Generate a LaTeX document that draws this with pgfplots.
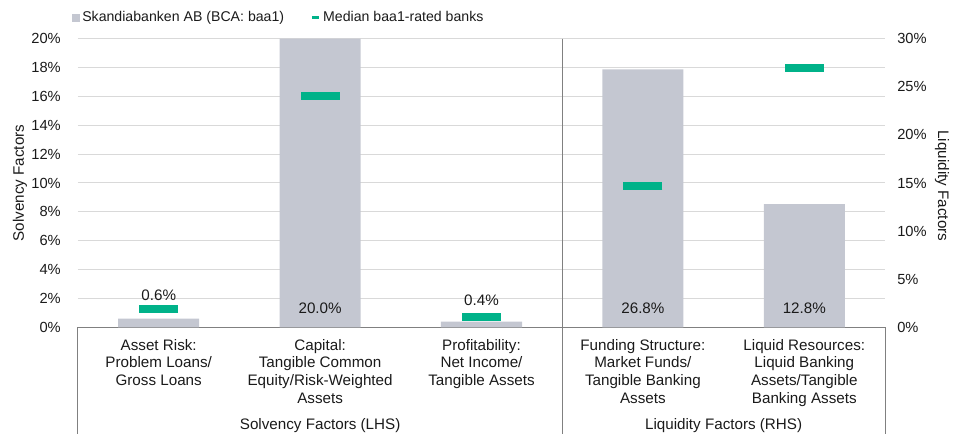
\documentclass[border=0pt]{standalone}
\usepackage{pgfplots}
\pgfplotsset{compat=1.18}
\usepackage{fontspec}
\setmainfont{Liberation Sans}
\definecolor{barc}{HTML}{C4C7D1}
\definecolor{medc}{HTML}{00B289}
\definecolor{gridc}{HTML}{D9D9D9}
\definecolor{linec}{HTML}{808080}
\definecolor{txtc}{HTML}{1A1A1A}
\newcommand\bigf{\fontsize{11.4}{13.2}\selectfont}
\newcommand\tkf{\fontsize{11}{13}\selectfont}
\newcommand\smf{\fontsize{10.6}{13}\selectfont}
\begin{document}
\begin{tikzpicture}[font=\bigf, text=txtc]
\pgfplotsset{
 common/.style={
  scale only axis, width=605.25pt, height=216.5pt,
  xmin=-0.5, xmax=4.5, ymin=0,
  clip=false,
  /pgf/number format/assume math mode=true,
  tick label style={font=\tkf, text=txtc},
  label style={font=\bigf, text=txtc},
 }
}
\begin{axis}[common, ymax=20,
  axis x line*=bottom, axis y line*=left,
  y axis line style={draw=none},
  x axis line style={linec, line width=0.75pt},
  ymajorgrids, grid style={gridc, line width=0.75pt},
  ytick={0,2,...,20},
  yticklabels={0\%,2\%,4\%,6\%,8\%,10\%,12\%,14\%,16\%,18\%,20\%},
  ytick style={draw=none}, xtick style={draw=none},
  yticklabel style={xshift=-9.4pt},
  xtick={0,1,2,3,4},
  xticklabels={{Asset Risk:\\Problem Loans/\\Gross Loans},
               {Capital:\\Tangible Common\\Equity/Risk-Weighted\\Assets},
               {Profitability:\\Net Income/\\Tangible Assets},
               {Funding Structure:\\Market Funds/\\Tangible Banking\\Assets},
               {Liquid Resources:\\Liquid Banking\\Assets/Tangible\\Banking Assets}},
  xticklabel style={align=center, anchor=north, yshift=-5.5pt, font=\bigf},
  ylabel={Solvency Factors},
  ylabel style={at={(axis description cs:-0.0719,0.5)}, anchor=center},
  legend columns=2,
  legend style={at={(rel axis cs:0,1.073)}, anchor=west, xshift=-5pt,
    draw=none, fill=none, inner sep=0pt, font=\smf,
    /tikz/every even column/.append style={column sep=18pt}},
  legend cell align=left,
]
\addplot[ybar, bar width=60.75pt, fill=barc, draw=none,
  legend image code/.code={\fill[barc] (0pt,-3pt) rectangle (6pt,3pt);}]
  coordinates {(0,0.6) (1,20) (2,0.4)};
\addlegendentry{Skandiabanken AB (BCA: baa1)}
\addplot[only marks, mark=-, mark size=14.6pt, mark options={medc, line width=6pt},
  legend image code/.code={\draw[medc, line width=2pt] (0pt,0pt) -- (5.25pt,0pt);}]
  coordinates {(0,1.3) (1,16.0) (2,0.75)};
\addlegendentry{Median baa1-rated banks}
\node at (axis cs:0,2.24) {0.6\%};
\node at (axis cs:1,1.29) {20.0\%};
\node at (axis cs:2,1.87) {0.4\%};
\end{axis}
\begin{axis}[common, ymax=30,
  axis y line*=right, axis x line=none,
  y axis line style={draw=none},
  ytick={0,5,...,30},
  yticklabels={0\%,5\%,10\%,15\%,20\%,25\%,30\%},
  ytick style={draw=none},
  yticklabel style={xshift=5.7pt},
  ylabel={Liquidity Factors},
  ylabel style={at={(axis description cs:1.0706,0.49)}, anchor=center, rotate=180},
]
\addplot[ybar, bar width=60.75pt, fill=barc, draw=none, forget plot]
  coordinates {(3,26.8) (4,12.8)};
\addplot[only marks, mark=-, mark size=14.6pt, mark options={medc, line width=6pt}, forget plot]
  coordinates {(3,14.7) (4,27.0)};
\node at (axis cs:3,1.93) {26.8\%};
\node at (axis cs:4,1.93) {12.8\%};
\end{axis}
\draw[linec, line width=0.75pt] (363.15pt,216.5pt) -- (363.15pt,-90pt);
\draw[linec, line width=0.75pt] (0pt,0pt) -- (0pt,-90pt);
\draw[linec, line width=0.75pt] (605.25pt,0pt) -- (605.25pt,-90pt);
\node at (181.6pt,-73.8pt) {Solvency Factors (LHS)};
\node at (484.2pt,-73.8pt) {Liquidity Factors (RHS)};
\pgfresetboundingbox
\path (-58.5pt,-80pt) rectangle (660pt,245.5pt);
\end{tikzpicture}
\end{document}
